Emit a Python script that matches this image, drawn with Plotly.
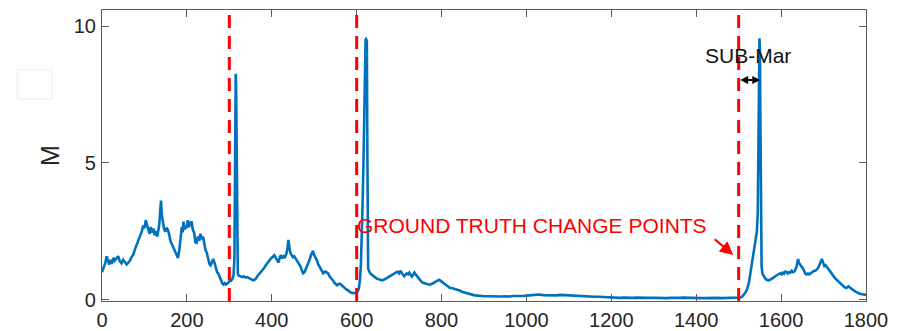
import plotly.graph_objects as go

# ---- data ----
seg_a_x = [0, 4, 8, 11, 14, 17, 20, 23, 27, 30, 34, 38, 42, 46, 50, 54, 58, 62, 66, 70,
           74, 78, 82, 86, 90, 94, 97, 100, 103, 106, 109, 112, 115, 118, 121, 124, 127, 130,
           133, 135, 137, 139, 141, 143, 146, 149, 152, 155, 158, 161, 164, 167, 170, 173,
           176, 179, 182, 185, 188, 190, 192, 194, 196, 199, 202, 205, 208, 211, 214, 217,
           220, 223, 226, 229, 232, 235, 238, 241, 244, 247, 250, 253, 256, 259, 262, 265,
           268, 271, 274, 277, 280, 283, 286, 289, 292, 295, 298]
seg_a_y = [1.00, 1.15, 1.35, 1.58, 1.40, 1.28, 1.45, 1.30, 1.52, 1.42, 1.50, 1.58, 1.40, 1.32,
           1.45, 1.36, 1.28, 1.35, 1.42, 1.56, 1.65, 1.85, 2.00, 2.20, 2.35, 2.50, 2.70, 2.60,
           2.90, 2.75, 2.55, 2.40, 2.65, 2.45, 2.60, 2.35, 2.50, 2.30, 2.55, 2.75, 3.20, 3.62,
           3.10, 2.85, 2.60, 2.48, 2.62, 2.55, 2.40, 2.15, 2.05, 1.90, 1.80, 1.72, 1.62, 1.52,
           1.80, 2.30, 2.65, 2.45, 2.85, 2.55, 2.70, 2.60, 2.90, 2.65, 2.80, 2.85, 2.55, 2.45,
           2.10, 2.05, 2.30, 2.15, 2.40, 2.20, 2.30, 2.05, 1.80, 1.70, 1.45, 1.30, 1.25, 1.40,
           1.48, 1.35, 1.15, 1.00, 0.95, 0.82, 0.72, 0.60, 0.55, 0.60, 0.55, 0.58, 0.62]

seg_b_x = [301, 304, 307, 310, 312, 313, 314, 315, 316, 317, 318, 319, 320, 322, 326, 330,
           334, 338, 342, 346, 350, 354, 358, 362, 366, 370, 374, 378, 382, 386, 390, 394,
           398, 402, 406, 410, 413, 416, 419, 422, 425, 428, 431, 434, 437, 439, 441, 444,
           447, 450, 453, 456, 459, 462, 465, 468, 471, 474, 477, 480, 483, 486, 489, 492,
           495, 497, 500, 503, 506, 509, 512, 515, 518, 521, 524, 527, 530, 533, 536, 539,
           542, 545, 548, 551, 554, 557, 560, 563, 566, 569, 572, 575, 578, 581, 584, 587,
           590, 593, 596, 599]
seg_b_y = [0.70, 0.68, 0.75, 0.90, 1.50, 4.00, 7.50, 8.25, 7.80, 6.00, 4.00, 2.00, 0.95,
           0.88, 0.85, 0.82, 0.85, 0.80, 0.82, 0.78, 0.75, 0.72, 0.70, 0.75, 0.85, 0.92, 1.00,
           1.08, 1.15, 1.25, 1.35, 1.42, 1.50, 1.55, 1.62, 1.50, 1.40, 1.35, 1.55, 1.62, 1.50,
           1.58, 1.55, 1.65, 1.85, 2.18, 1.95, 1.70, 1.62, 1.55, 1.58, 1.50, 1.42, 1.38, 1.30,
           1.20, 1.05, 0.96, 1.00, 1.10, 1.20, 1.30, 1.45, 1.60, 1.72, 1.78, 1.62, 1.55, 1.45,
           1.30, 1.20, 1.10, 1.02, 0.96, 1.00, 1.02, 0.98, 0.95, 0.85, 0.80, 0.75, 0.68, 0.60,
           0.55, 0.52, 0.56, 0.58, 0.55, 0.50, 0.45, 0.40, 0.38, 0.35, 0.30, 0.28, 0.25, 0.24,
           0.22, 0.23, 0.24]

seg_c_x = [602, 605, 608, 610, 612, 614, 616, 618, 619, 620, 621, 622, 623, 624, 625, 626,
           627, 629, 632, 636, 640, 644, 648, 652, 656, 660, 664, 668, 672, 676, 680, 684,
           688, 692, 696, 700, 703, 706, 709, 712, 715, 718, 721, 724, 727, 730, 733, 736,
           739, 742, 745, 748, 751, 755, 759, 763, 767, 771, 775, 779, 783, 787, 791, 795,
           798, 801, 804, 808, 812, 816, 820, 824, 828, 832, 836, 840, 844, 848, 852, 856,
           860, 864, 868, 872, 876, 880, 890]
seg_c_y = [0.28, 0.40, 0.75, 1.30, 2.20, 3.50, 5.00, 7.60, 7.85, 8.50, 9.50, 9.52, 9.50,
           9.45, 6.00, 1.60, 1.15, 1.05, 0.95, 0.90, 0.85, 0.80, 0.76, 0.74, 0.72, 0.70, 0.72,
           0.76, 0.80, 0.85, 0.88, 0.92, 0.96, 0.98, 1.02, 0.95, 1.05, 0.98, 0.92, 0.85, 0.90,
           0.95, 0.92, 0.98, 0.90, 0.84, 0.90, 0.98, 0.92, 0.85, 0.78, 0.72, 0.68, 0.62, 0.60,
           0.58, 0.56, 0.54, 0.56, 0.58, 0.62, 0.66, 0.70, 0.72, 0.68, 0.64, 0.60, 0.56, 0.50,
           0.45, 0.42, 0.42, 0.40, 0.38, 0.38, 0.35, 0.32, 0.28, 0.26, 0.24, 0.22, 0.20, 0.19,
           0.17, 0.16, 0.15, 0.13]

seg_d_x = [900, 910, 920, 930, 940, 950, 960, 970, 980, 990, 1000, 1010, 1020, 1030, 1040,
           1050, 1060, 1070, 1080, 1090, 1100, 1110, 1120, 1130, 1140, 1150, 1160, 1170, 1180,
           1190, 1200, 1210, 1220, 1230, 1240, 1250, 1260, 1270, 1280, 1290, 1300, 1310, 1320,
           1330, 1340, 1350, 1360, 1370, 1380, 1390, 1400, 1410, 1420, 1430, 1440, 1450, 1460,
           1470, 1480, 1490, 1500]
seg_d_y = [0.12, 0.12, 0.11, 0.12, 0.11, 0.12, 0.11, 0.13, 0.12, 0.13, 0.14, 0.15, 0.16,
           0.18, 0.16, 0.15, 0.14, 0.15, 0.17, 0.16, 0.14, 0.13, 0.14, 0.13, 0.12, 0.11, 0.10,
           0.10, 0.09, 0.08, 0.08, 0.07, 0.06, 0.07, 0.06, 0.06, 0.07, 0.06, 0.05, 0.06, 0.06,
           0.05, 0.06, 0.05, 0.06, 0.05, 0.06, 0.07, 0.06, 0.05, 0.06, 0.05, 0.05, 0.06, 0.05,
           0.06, 0.05, 0.05, 0.06, 0.05, 0.05]

seg_e_x = [1504, 1508, 1512, 1516, 1520, 1524, 1527, 1530, 1533, 1536, 1539, 1541, 1543,
           1545, 1546, 1547, 1548, 1549, 1550, 1551, 1552, 1553, 1554, 1556, 1559, 1562, 1566,
           1570, 1574, 1578, 1582, 1586, 1590, 1594, 1598, 1601, 1604, 1607, 1610, 1613, 1616,
           1619, 1622, 1625, 1628, 1631, 1634, 1637, 1640, 1642, 1645, 1648, 1651, 1654, 1657,
           1660, 1663, 1666, 1669, 1672, 1675, 1678, 1681, 1684, 1687, 1690, 1693, 1696, 1699,
           1702, 1705, 1708, 1711, 1714, 1717, 1720, 1723, 1726, 1729, 1732, 1735, 1738, 1741,
           1744, 1747, 1750, 1753, 1756, 1759, 1762, 1765, 1768, 1771, 1774, 1777, 1780, 1784,
           1788, 1792, 1796, 1800]
seg_e_y = [0.07, 0.10, 0.16, 0.25, 0.38, 0.60, 0.90, 1.20, 1.50, 1.80, 2.10, 2.35, 2.50,
           3.20, 4.50, 6.50, 8.50, 9.55, 9.20, 7.00, 4.50, 2.20, 1.20, 0.95, 0.85, 0.78, 0.72,
           0.70, 0.72, 0.75, 0.80, 0.85, 0.88, 0.92, 0.96, 0.92, 0.98, 0.94, 1.02, 1.00, 0.95,
           1.00, 0.98, 1.05, 1.00, 1.02, 1.10, 1.25, 1.48, 1.35, 1.25, 1.20, 1.15, 1.05, 0.95,
           0.92, 0.95, 0.92, 0.96, 0.98, 1.02, 1.05, 1.05, 1.10, 1.15, 1.25, 1.35, 1.48, 1.35,
           1.22, 1.25, 1.18, 1.12, 1.05, 1.00, 0.92, 0.85, 0.80, 0.75, 0.70, 0.66, 0.62, 0.58,
           0.52, 0.48, 0.44, 0.42, 0.46, 0.48, 0.44, 0.40, 0.35, 0.32, 0.30, 0.28, 0.24, 0.22,
           0.20, 0.19, 0.18, 0.17]

change_points = [300, 600, 1500]
x_ticks = [0, 200, 400, 600, 800, 1000, 1200, 1400, 1600, 1800]
y_ticks = [0, 5, 10]
sub_mar_start, sub_mar_end, sub_mar_level = 1500, 1551, 8.03

sample_x = seg_a_x + seg_b_x + seg_c_x + seg_d_x + seg_e_x
m_value = seg_a_y + seg_b_y + seg_c_y + seg_d_y + seg_e_y

FONT = "Liberation Sans, Arial, Helvetica, sans-serif"
AXIS_COL = "#5a5a5a"
TXT_COL = "#262626"

fig = go.Figure()
fig.add_trace(go.Scatter(x=sample_x, y=m_value, mode="lines",
                         line=dict(color="#0072BD", width=2.6),
                         showlegend=False, hoverinfo="skip"))

for cp in change_points:
    fig.add_shape(type="line", xref="x", yref="paper", x0=cp, x1=cp, y0=0, y1=1,
                  line=dict(color="#FF0000", width=3, dash="13px,8px"), layer="above")

# faint empty legend box left of the axes
fig.add_shape(type="rect", xref="paper", yref="paper",
              x0=-0.111, x1=-0.0654, y0=0.694, y1=0.794,
              line=dict(color="#ececec", width=1), fillcolor="rgba(0,0,0,0)")

# SUB-Mar double arrow + label
fig.add_annotation(x=sub_mar_end, y=sub_mar_level, ax=sub_mar_start, ay=sub_mar_level,
                   xref="x", yref="y", axref="x", ayref="y", text="", showarrow=True,
                   arrowside="end+start", arrowhead=2, arrowsize=0.8, arrowwidth=2,
                   arrowcolor="black")
fig.add_annotation(x=1523, y=8.92, xref="x", yref="y", text="SUB-Mar", showarrow=False,
                   font=dict(family=FONT, size=21, color="#111111"))

# ground truth label and red arrow
fig.add_annotation(x=1014, y=2.71, xref="x", yref="y", text="GROUND TRUTH CHANGE POINTS",
                   showarrow=False, font=dict(family=FONT, size=21, color="#FF0000"))
fig.add_annotation(x=1487, y=1.63, ax=1440, ay=2.25, xref="x", yref="y", axref="x",
                   ayref="y", text="", showarrow=True, arrowhead=2, arrowsize=1.2,
                   arrowwidth=2.2, arrowcolor="#FF0000")

axis_common = dict(showgrid=False, zeroline=False, showline=True, linecolor=AXIS_COL,
                   linewidth=1.2, mirror="allticks", ticks="inside", ticklen=7,
                   tickcolor=AXIS_COL, tickwidth=1.2,
                   tickfont=dict(family=FONT, size=20, color=TXT_COL))

fig.update_xaxes(range=[0, 1800], tickvals=x_ticks, ticklabelstandoff=1, **axis_common)
fig.update_yaxes(range=[-0.055, 10.585], tickvals=y_ticks, ticklabelstandoff=1,
                 title=dict(text="M", font=dict(family=FONT, size=25, color=TXT_COL),
                            standoff=6),
                 **axis_common)

fig.update_layout(width=899, height=331, margin=dict(l=102, r=33, t=10, b=30, autoexpand=False),
                  paper_bgcolor="white", plot_bgcolor="white", showlegend=False,
                  font=dict(family=FONT))

fig.write_html("out.html")
